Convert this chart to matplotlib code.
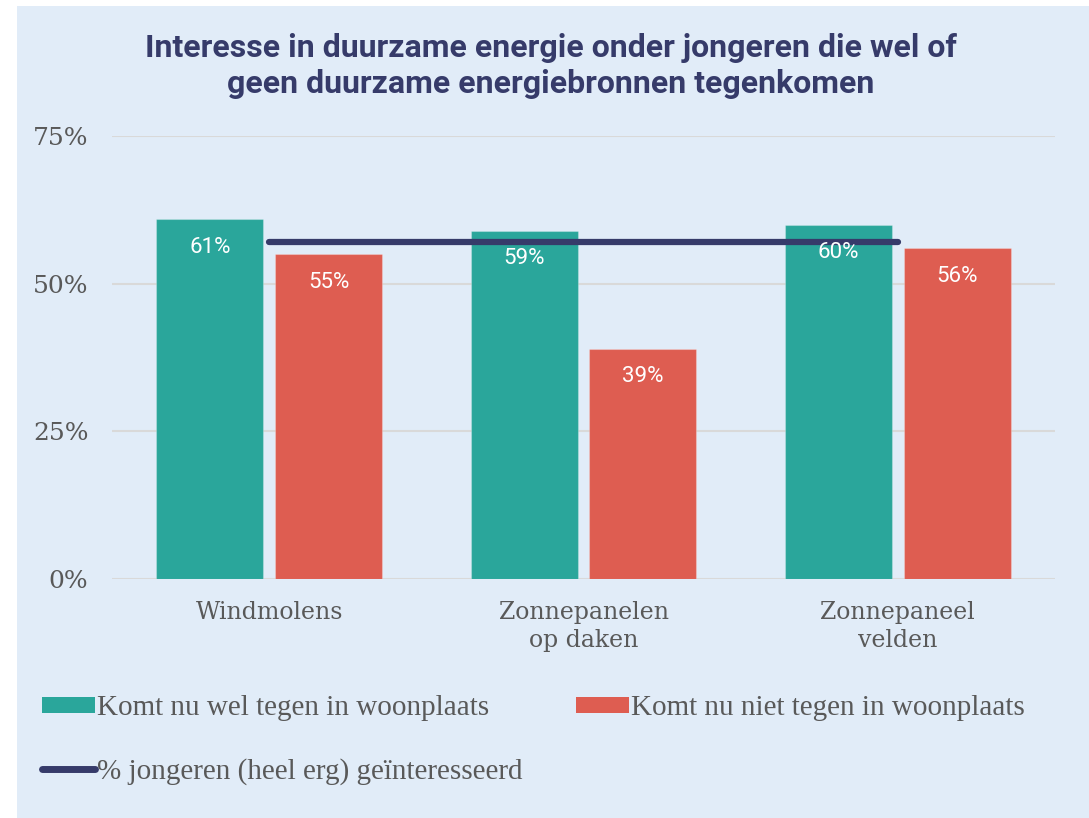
import matplotlib
matplotlib.use('Agg')
import matplotlib.pyplot as plt
import numpy as np
from matplotlib.patches import Rectangle, Patch
from matplotlib.lines import Line2D

# data
categories = ['Windmolens', 'Zonnepanelen\nop daken', 'Zonnepaneel\nvelden']
wel = [61, 59, 60]
niet = [55, 39, 56]
interesse = 57
yticks = [0, 25, 50, 75]
ylabels = ['0%', '25%', '50%', '75%']

title = ('Interesse in duurzame energie onder jongeren die wel of\n'
         'geen duurzame energiebronnen tegenkomen')
lab_wel = 'Komt nu wel tegen in woonplaats'
lab_niet = 'Komt nu niet tegen in woonplaats'
lab_line = '% jongeren (heel erg) geïnteresseerd'

teal = '#2AA69B'
red = '#DE5D51'
navy = '#363B6A'
bg = '#E1ECF8'
grey = '#595959'

fig = plt.figure(figsize=(10.89, 8.18), dpi=100, facecolor='white')
W, H = 1089, 818
fig.patches.append(Rectangle((17 / W, 0), 1, (H - 6) / H, transform=fig.transFigure,
                             facecolor=bg, edgecolor='none', zorder=-10))

ax = fig.add_axes([112 / W, 1 - 579 / H, (1055 - 112) / W, (579 - 136) / H])
ax.set_facecolor('none')

x = np.arange(len(categories))
bw = 0.34
off = 0.189
b1 = ax.bar(x - off, wel, bw, color=teal, edgecolor=(1, 1, 1, 0.25), lw=0.8, zorder=2)
b2 = ax.bar(x + off, niet, bw, color=red, edgecolor=(1, 1, 1, 0.25), lw=0.8, zorder=2)

ax.plot([x[0], x[-1]], [interesse, interesse], color=navy, lw=4.5,
        solid_capstyle='round', zorder=4)

for bars, vals in ((b1, wel), (b2, niet)):
    for b, v in zip(bars, vals):
        ax.text(b.get_x() + b.get_width() / 2, v - 4.8, f'{v}%', ha='center', va='center',
                color='white', fontsize=16, family='Roboto', zorder=5)

ax.set_xlim(-0.5, 2.5)
ax.set_ylim(0, 75)
ax.set_yticks(yticks)
ax.set_yticklabels(ylabels, family='DejaVu Serif', fontsize=18, color=grey)
ax.set_xticks(x)
ax.set_xticklabels(categories, family='DejaVu Serif', fontsize=17, color=grey,
                   linespacing=1.25)
ax.tick_params(length=0)
ax.tick_params(axis='y', pad=17)
ax.tick_params(axis='x', pad=16)
ax.grid(axis='y', color='#D9D9D9', lw=1.5, zorder=1)
for s in ax.spines.values():
    s.set_visible(False)

fig.text(551 / W, 1 - 66 / H, title, ha='center', va='center', family='Roboto',
         weight='bold', fontsize=23, color=navy, linespacing=1.25)

handles = [Patch(facecolor=teal), Line2D([], [], color=navy, lw=5, solid_capstyle='round'),
           Patch(facecolor=red)]
labels = [lab_wel, lab_line, lab_niet]
leg = fig.legend(handles, labels, ncol=2, loc='upper left',
                 bbox_to_anchor=(16 / W, 1 - 669 / H), frameon=False,
                 prop={'family': 'Liberation Serif', 'size': 21},
                 handlelength=1.8, handleheight=0.5, handletextpad=0.07,
                 columnspacing=1.85, labelspacing=1.25)
for t in leg.get_texts():
    t.set_color(grey)

fig.savefig('out.png', dpi=100, facecolor='white')
